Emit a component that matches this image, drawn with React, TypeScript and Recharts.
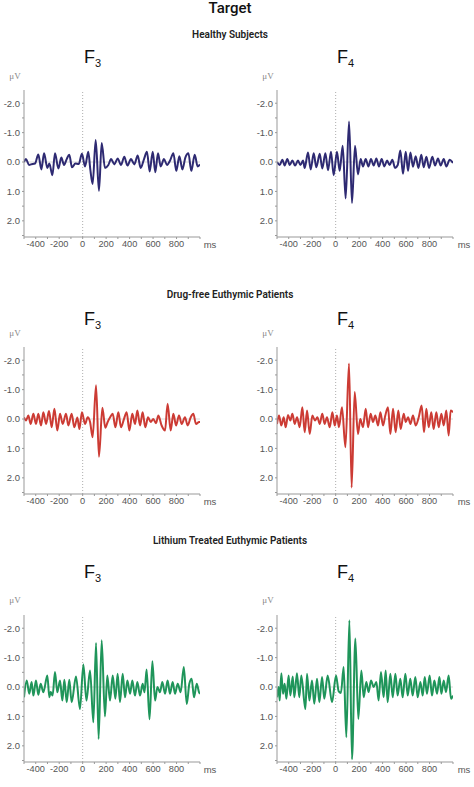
import React from "react";
import { LineChart, Line, XAxis, YAxis, ReferenceLine } from "recharts";

// ERP traces, [ms, µV] (negative is up)
const healthyF3: [number, number][] = [
  [-500, 0.0], [-483, -0.1], [-457, 0.1], [-440, 0.08], [-406, 0.05], [-378, -0.26], [-352, 0.25],
  [-329, -0.3], [-301, 0.2], [-284, 0.05], [-258, 0.45], [-236, -0.3], [-207, 0.22], [-182, -0.15],
  [-159, 0.1], [-136, -0.1], [-114, -0.25], [-91, 0.18], [-62, 0.05], [-34, 0.07], [-6, -0.28],
  [20, 0.15], [48, -0.35], [65, 0.25], [85, 0.75], [111, -0.75], [139, 0.98], [162, -0.65],
  [190, 0.2], [219, 0.1], [242, -0.1], [270, 0.08], [298, -0.12], [327, 0.1], [355, -0.18],
  [381, 0.12], [412, -0.1], [440, 0.08], [469, -0.22], [494, 0.2], [523, -0.1], [548, -0.35],
  [571, 0.32], [597, -0.35], [619, 0.35], [642, -0.3], [665, 0.15], [693, -0.1], [719, 0.1],
  [745, -0.05], [773, -0.3], [798, 0.3], [824, -0.2], [850, 0.25], [875, -0.15], [901, -0.3],
  [926, 0.3], [955, -0.25], [980, 0.15], [1000, 0.08],
];

const healthyF4: [number, number][] = [
  [-500, 0.0], [-477, 0.1], [-454, -0.08], [-435, 0.12], [-412, -0.1], [-392, 0.1], [-369, -0.05],
  [-346, 0.12], [-321, -0.05], [-301, 0.1], [-278, -0.05], [-264, 0.2], [-236, -0.32], [-213, 0.25],
  [-187, -0.3], [-165, 0.18], [-136, -0.28], [-114, 0.22], [-88, -0.3], [-65, 0.28], [-40, -0.35],
  [-17, 0.45], [11, -0.35], [34, 0.3], [60, -0.55], [85, 1.24], [114, -1.38], [139, 1.39],
  [165, -0.55], [190, 0.42], [213, -0.1], [233, 0.15], [256, -0.1], [279, 0.15], [301, -0.1],
  [324, 0.12], [347, -0.12], [369, 0.15], [392, -0.1], [415, 0.15], [438, -0.05], [460, 0.1],
  [483, -0.08], [506, 0.2], [529, 0.1], [551, -0.39], [574, 0.4], [597, -0.35], [617, 0.3],
  [637, -0.32], [659, 0.16], [682, -0.2], [705, 0.2], [730, -0.25], [750, 0.18], [773, -0.18],
  [796, 0.2], [824, -0.18], [847, 0.12], [872, -0.12], [895, 0.12], [921, -0.1], [943, 0.15],
  [972, -0.08], [1000, 0.03],
];

const drugFreeF3: [number, number][] = [
  [-500, -0.06], [-483, 0.05], [-463, -0.12], [-443, 0.17], [-420, -0.18], [-398, 0.17], [-378, -0.18],
  [-355, 0.22], [-335, -0.23], [-312, 0.17], [-287, -0.27], [-264, 0.28], [-241, -0.35], [-216, 0.39],
  [-193, -0.18], [-170, 0.17], [-142, -0.18], [-122, 0.22], [-94, -0.18], [-71, 0.28], [-45, -0.05],
  [-28, 0.34], [-6, -0.23], [20, 0.17], [43, -0.06], [63, 0.1], [85, 0.62], [114, -1.15],
  [139, 1.28], [168, -0.38], [193, 0.3], [213, 0.1], [233, -0.05], [256, -0.18], [279, 0.28],
  [304, -0.23], [327, 0.28], [352, 0.0], [375, -0.23], [398, 0.39], [423, -0.18], [446, 0.17],
  [466, -0.29], [489, 0.22], [511, -0.23], [534, 0.28], [557, -0.06], [580, 0.1], [602, 0.0],
  [625, 0.14], [645, -0.12], [673, 0.22], [702, 0.39], [724, -0.52], [750, 0.39], [773, -0.18],
  [796, 0.22], [821, -0.12], [844, 0.17], [872, -0.06], [895, 0.22], [921, -0.06], [943, -0.18],
  [966, 0.17], [992, 0.1], [1000, 0.1],
];

const drugFreeF4: [number, number][] = [
  [-500, 0.17], [-483, -0.12], [-463, 0.22], [-443, -0.06], [-426, 0.28], [-406, -0.14], [-386, 0.05],
  [-369, -0.18], [-349, 0.17], [-329, -0.06], [-307, 0.28], [-284, -0.4], [-264, 0.45], [-244, -0.29],
  [-221, 0.51], [-199, -0.12], [-176, 0.05], [-156, -0.06], [-136, 0.17], [-114, -0.18], [-94, 0.17],
  [-74, -0.06], [-51, 0.28], [-28, -0.23], [-8, 0.22], [11, -0.12], [28, 0.28], [54, -0.4],
  [83, 0.96], [114, -1.89], [136, 2.33], [162, -0.92], [190, 0.51], [210, 0.0], [233, 0.28],
  [256, -0.35], [276, 0.28], [298, -0.18], [318, 0.1], [338, -0.12], [361, 0.22], [381, -0.23],
  [404, 0.22], [423, -0.12], [446, -0.4], [466, 0.51], [489, -0.35], [511, 0.45], [534, -0.29],
  [554, 0.34], [580, -0.18], [597, 0.1], [617, -0.06], [637, 0.17], [659, -0.12], [682, 0.22],
  [708, -0.06], [733, -0.46], [753, 0.45], [773, -0.35], [793, 0.28], [815, -0.23], [835, 0.34],
  [858, -0.23], [878, 0.28], [901, -0.18], [921, 0.22], [943, -0.29], [963, 0.56], [980, -0.29],
  [1000, -0.23],
];

const lithiumF3: [number, number][] = [
  [-500, 0.35], [-477, -0.22], [-455, 0.23], [-435, -0.17], [-420, 0.29], [-398, -0.22], [-378, 0.26],
  [-358, -0.11], [-335, 0.18], [-301, -0.39], [-284, 0.35], [-273, 0.17], [-256, 0.29], [-236, -0.51],
  [-216, 0.18], [-193, -0.22], [-173, 0.46], [-156, -0.25], [-136, 0.52], [-114, -0.25], [-94, 0.52],
  [-57, -0.36], [-23, 0.75], [6, -0.77], [32, 0.46], [63, -0.56], [91, 1.2], [114, -1.5],
  [136, 1.77], [162, -1.59], [190, 1.0], [210, -0.39], [233, 0.46], [256, -0.39], [279, 0.4],
  [298, -0.45], [318, 0.52], [341, -0.45], [361, 0.35], [381, -0.22], [404, 0.23], [423, -0.22],
  [446, 0.29], [466, -0.17], [489, 0.29], [511, -0.11], [527, 0.18], [545, -0.6], [570, 1.1],
  [594, -0.88], [617, 0.46], [637, 0.0], [659, 0.18], [679, -0.17], [702, 0.23], [724, -0.22],
  [744, 0.23], [767, -0.17], [787, 0.23], [810, -0.11], [835, 0.18], [862, -0.68], [887, 0.58],
  [909, -0.11], [929, -0.28], [949, 0.35], [972, -0.11], [992, 0.18], [1000, 0.23],
];

const lithiumF4: [number, number][] = [
  [-500, 0.35], [-486, 0.0], [-477, 0.46], [-463, -0.47], [-449, 0.23], [-435, -0.11], [-420, 0.4],
  [-401, -0.39], [-386, 0.29], [-366, -0.36], [-352, 0.35], [-330, -0.47], [-310, 0.35], [-293, -0.39],
  [-258, 0.75], [-244, -0.45], [-224, 0.46], [-202, -0.22], [-182, 0.57], [-159, -0.28], [-139, 0.52],
  [-116, -0.34], [-97, 0.4], [-68, -0.39], [-31, 0.52], [3, -0.39], [26, 0.15], [45, 0.2],
  [68, -0.68], [91, 1.71], [117, -2.27], [139, 2.46], [168, -1.65], [193, 1.09], [219, -0.56],
  [239, 0.35], [261, -0.17], [281, 0.17], [301, -0.22], [324, 0.0], [347, -0.17], [366, 0.46],
  [386, -0.51], [409, 0.35], [426, -0.56], [443, 0.52], [466, -0.45], [486, 0.35], [509, -0.45],
  [528, 0.29], [551, -0.28], [571, 0.35], [594, -0.45], [614, 0.29], [636, -0.28], [656, 0.29],
  [679, -0.34], [699, 0.35], [722, -0.17], [742, 0.29], [759, -0.34], [778, 0.23], [801, -0.39],
  [821, 0.29], [841, -0.22], [864, 0.23], [884, -0.34], [901, 0.23], [921, -0.22], [940, 0.17],
  [963, -0.39], [983, 0.4], [1000, 0.29],
];

const groups = ["Healthy Subjects", "Drug-free Euthymic Patients", "Lithium Treated Euthymic Patients"];
const xTicks = [-500, -400, -300, -200, -100, 0, 100, 200, 300, 400, 500, 600, 700, 800, 900, 1000];
const xLabels = [-400, -200, 0, 200, 400, 600, 800];
const yTicks = [-2, -1.5, -1, -0.5, 0, 0.5, 1, 1.5, 2, 2.5];
const yLabels = [-2, -1, 0, 1, 2];

const NAVY = "#2e2a72";
const RED = "#cc3b34";
const GREEN = "#1f955a";

const xTickStyle = { fontSize: 9.2, fill: "#555", fontFamily: "'Liberation Sans', Arial, sans-serif" };
const yTickStyle = { fontSize: 9.5, fill: "#555", fontFamily: "'Liberation Sans', Arial, sans-serif" };

function Panel({ left, top, trace, color }: { left: number; top: number; trace: [number, number][]; color: string }) {
  const data = trace.map(([t, v]) => ({ t, v }));
  return (
    <div style={{ position: "absolute", left, top }}>
      <LineChart width={205} height={172} data={data} margin={{ top: 5, right: 5, bottom: 0, left: 0 }}>
        <XAxis
          dataKey="t"
          type="number"
          domain={[-500, 1000]}
          ticks={xTicks}
          interval={0}
          tickFormatter={(v: number) => (xLabels.includes(v) ? String(v) : "")}
          tick={xTickStyle}
          tickSize={2}
          tickMargin={1}
          height={20}
          stroke="#999"
          allowDataOverflow
        />
        <YAxis
          type="number"
          domain={[-2.45, 2.55]}
          reversed
          ticks={yTicks}
          interval={0}
          tickFormatter={(v: number) => (yLabels.includes(v) ? v.toFixed(1) : "")}
          tick={yTickStyle}
          tickSize={2}
          tickMargin={2}
          width={24}
          stroke="#999"
          allowDataOverflow
        />
        <ReferenceLine y={0} stroke="#cfcfcf" strokeWidth={0.8} />
        <ReferenceLine x={0} stroke="#999" strokeDasharray="1 2" strokeWidth={0.8} />
        <Line
          type="monotone"
          dataKey="v"
          stroke={color}
          strokeWidth={2}
          dot={false}
          isAnimationActive={false}
        />
      </LineChart>
    </div>
  );
}

function Label({ x, y, children, style }: { x: number; y: number; children: React.ReactNode; style?: React.CSSProperties }) {
  return (
    <div
      style={{
        position: "absolute",
        left: x,
        top: y,
        transform: "translate(-50%, -50%)",
        whiteSpace: "nowrap",
        lineHeight: 1,
        ...style,
      }}
    >
      {children}
    </div>
  );
}

function Electrode({ x, top, n }: { x: number; top: number; n: number }) {
  return (
    <div
      style={{
        position: "absolute",
        left: x,
        top,
        fontSize: 18,
        lineHeight: "18px",
        color: "#111",
        fontFamily: "'Liberation Sans', Arial, sans-serif",
        whiteSpace: "nowrap",
      }}
    >
      F<span style={{ fontSize: 11, position: "relative", top: 4 }}>{n}</span>
    </div>
  );
}

const sectionStyle: React.CSSProperties = {
  fontSize: 10,
  fontWeight: 600,
  color: "#222",
  fontFamily: "Roboto, Arial, sans-serif",
};
const uvStyle: React.CSSProperties = {
  fontSize: 9,
  color: "#888",
  fontFamily: "'Liberation Serif', serif",
};
const msStyle: React.CSSProperties = {
  fontSize: 9.5,
  color: "#555",
  fontFamily: "'Liberation Sans', Arial, sans-serif",
};

const rows = [
  { title: groups[0], titleY: 35, fTop: 48, uvY: 76, plotTop: 90, msY: 245, f3: healthyF3, f4: healthyF4, color: NAVY },
  { title: groups[1], titleY: 295, fTop: 310, uvY: 333, plotTop: 347, msY: 502, f3: drugFreeF3, f4: drugFreeF4, color: RED },
  { title: groups[2], titleY: 541, fTop: 563, uvY: 600, plotTop: 615, msY: 770, f3: lithiumF3, f4: lithiumF4, color: GREEN },
];

export default function App() {
  return (
    <div
      style={{
        position: "absolute",
        left: 0,
        top: 0,
        width: 474,
        height: 787,
        background: "#fff",
        overflow: "hidden",
      }}
    >
      <Label x={230} y={8} style={{ fontSize: 15, fontWeight: 500, color: "#111", fontFamily: "Roboto, Arial, sans-serif" }}>
        Target
      </Label>
      {rows.map((r) => (
        <React.Fragment key={r.title}>
          <Label x={230} y={r.titleY} style={sectionStyle}>
            {r.title}
          </Label>
          <Electrode x={84} top={r.fTop} n={3} />
          <Electrode x={337} top={r.fTop} n={4} />
          <Label x={15} y={r.uvY} style={uvStyle}>μV</Label>
          <Label x={268} y={r.uvY} style={uvStyle}>μV</Label>
          <Panel left={0} top={r.plotTop - 5} trace={r.f3} color={r.color} />
          <Panel left={253} top={r.plotTop - 5} trace={r.f4} color={r.color} />
          <Label x={210} y={r.msY} style={msStyle}>ms</Label>
          <Label x={464} y={r.msY} style={msStyle}>ms</Label>
        </React.Fragment>
      ))}
    </div>
  );
}
